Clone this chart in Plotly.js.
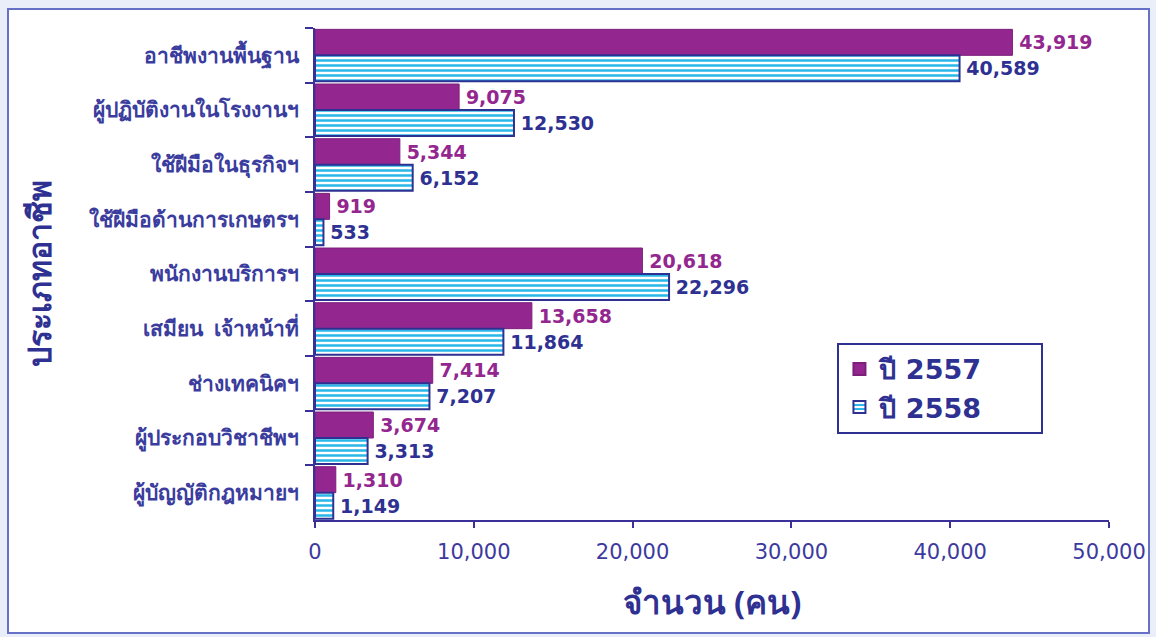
<!DOCTYPE html>
<html>
<head>
<meta charset="utf-8">
<script src="https://cdn.plot.ly/plotly-3.0.1.min.js"></script>
<style>
  html, body { margin: 0; padding: 0; background: #e9eef9; }
  #frame {
    position: absolute; left: 7px; top: 8px;
    width: 1139px; height: 622px;
    border: 2px solid #6670c6; background: #ffffff;
  }
  #chart { width: 1139px; height: 622px; }
</style>
</head>
<body>
<div id="frame"><div id="chart"></div></div>
<script>
var occupations = [
  'อาชีพงานพื้นฐาน',
  'ผู้ปฏิบัติงานในโรงงานฯ',
  'ใช้ฝีมือในธุรกิจฯ',
  'ใช้ฝีมือด้านการเกษตรฯ',
  'พนักงานบริการฯ',
  'เสมียน  เจ้าหน้าที่',
  'ช่างเทคนิคฯ',
  'ผู้ประกอบวิชาชีพฯ',
  'ผู้บัญญัติกฎหมายฯ'
];
var year2557 = [43919, 9075, 5344, 919, 20618, 13658, 7414, 3674, 1310];
var year2558 = [40589, 12530, 6152, 533, 22296, 11864, 7207, 3313, 1149];

var navy = '#2e3192';
var purple = '#93278f';
var cyan = '#29b6e8';
var numFont = 'DejaVu Sans, Verdana, sans-serif';
var thaiFont = 'Noto Sans, Tahoma, sans-serif';

var trace2557 = {
  type: 'bar',
  orientation: 'h',
  name: 'ปี 2557\u2003\u2003',
  y: occupations,
  x: year2557,
  marker: { color: purple, line: { color: '#7d1f7a', width: 1 } },
  texttemplate: '\u2009%{x:,}',
  textposition: 'outside',
  cliponaxis: false,
  textfont: { family: numFont, size: 19, color: purple, weight: 'bold' }
};

var trace2558 = {
  type: 'bar',
  orientation: 'h',
  name: 'ปี 2558\u2003\u2003',
  y: occupations,
  x: year2558,
  marker: {
    color: '#ffffff',
    line: { color: navy, width: 2 },
    pattern: { shape: '-', fgcolor: cyan, bgcolor: '#ffffff', size: 5, solidity: 0.5 }
  },
  texttemplate: '\u2009%{x:,}',
  textposition: 'outside',
  cliponaxis: false,
  textfont: { family: numFont, size: 19, color: navy, weight: 'bold' }
};

var layout = {
  width: 1139,
  height: 622,
  margin: { l: 306, r: 39, t: 18, b: 112 },
  paper_bgcolor: '#ffffff',
  plot_bgcolor: '#ffffff',
  barmode: 'group',
  bargap: 0.05,
  bargroupgap: 0,
  showlegend: true,
  legend: {
    x: 0.658, y: 0.36, xanchor: 'left', yanchor: 'top',
    bgcolor: '#ffffff',
    bordercolor: navy, borderwidth: 2,
    font: { family: numFont, size: 27, color: navy, weight: 'bold' },
    itemsizing: 'constant',
    tracegroupgap: 16
  },
  xaxis: {
    range: [0, 50000],
    tickvals: [0, 10000, 20000, 30000, 40000, 50000],
    tickformat: ',',
    showgrid: false,
    zeroline: false,
    showline: true,
    linecolor: '#3b2f98',
    linewidth: 2,
    ticks: 'outside',
    ticklen: 6,
    tickwidth: 2,
    tickcolor: '#3b2f98',
    ticklabelstandoff: 6,
    tickfont: { family: numFont, size: 21, color: '#3c3a9e' },
    title: {
      text: 'จำนวน (คน)',
      font: { family: thaiFont, size: 33, color: navy, weight: 'bold' },
      standoff: 28
    }
  },
  yaxis: {
    autorange: 'reversed',
    showgrid: false,
    zeroline: false,
    showline: true,
    linecolor: '#3b2f98',
    linewidth: 2,
    ticks: 'outside',
    tickson: 'boundaries',
    ticklen: 8,
    tickwidth: 2,
    tickcolor: '#3b2f98',
    ticklabelstandoff: 10,
    tickfont: { family: thaiFont, size: 21, color: '#3a3c9e', weight: 'bold' },
    title: {
      text: 'ประเภทอาชีพ',
      font: { family: thaiFont, size: 32, color: navy, weight: 'bold' },
      standoff: 28
    }
  }
};

Plotly.newPlot('chart', [trace2557, trace2558], layout, { displayModeBar: false, staticPlot: true });
</script>
</body>
</html>
